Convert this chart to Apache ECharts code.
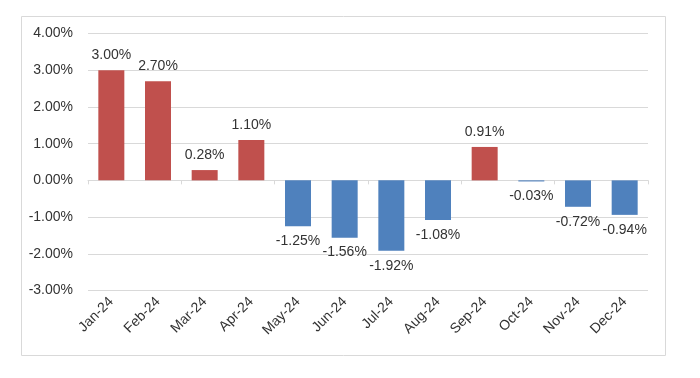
<!DOCTYPE html>
<html><head><meta charset="utf-8">
<script src="https://cdn.jsdelivr.net/npm/echarts@6/dist/echarts.min.js"></script>
<style>html,body{margin:0;padding:0;background:#fff}#c{width:700px;height:378px}</style>
</head><body><div id="c"></div>
<script>
const categories = ['Jan-24','Feb-24','Mar-24','Apr-24','May-24','Jun-24','Jul-24','Aug-24','Sep-24','Oct-24','Nov-24','Dec-24'];
const values = [3.00, 2.70, 0.28, 1.10, -1.25, -1.56, -1.92, -1.08, 0.91, -0.03, -0.72, -0.94];
const posColor = '#c0504d';
const negColor = '#4f81bd';
const font = 'Liberation Sans, Arial, sans-serif';

const chart = echarts.init(document.getElementById('c'));
chart.setOption({
  animation: false,
  graphic: [{type:'rect', shape:{x:21.5,y:16.5,width:644,height:339}, style:{fill:'none', stroke:'#d9d9d9', lineWidth:1}, z:-1}],
  grid: {left: 88, right: 52, top: 33.5, bottom: 87.5, containLabel: false},
  xAxis: [{
    type: 'category', data: categories, position: 'bottom',
    axisLine: {show: false, onZero: false}, axisTick: {show: false},
    axisLabel: {rotate: 45, fontFamily: font, fontSize: 14, color: '#333', margin: 9, interval: 0}
  },{
    type: 'category', data: categories, position: 'bottom',
    axisLine: {show: true, onZero: true, lineStyle: {color: '#d9d9d9', width: 1}},
    axisTick: {show: true, length: 4, lineStyle: {color: '#d9d9d9'}},
    axisLabel: {show: false}
  }],
  yAxis: {
    type: 'value', min: -3, max: 4, interval: 1,
    axisLine: {show: false}, axisTick: {show: false},
    splitLine: {lineStyle: {color: '#d9d9d9', width: 1}},
    axisLabel: {formatter: v => v.toFixed(2) + '%', fontFamily: font, fontSize: 14, color: '#333', margin: 15}
  },
  series: [{
    type: 'bar', xAxisIndex: 0, barWidth: 26,
    data: values.map(v => ({value: v, itemStyle: {color: v >= 0 ? posColor : negColor},
      label: {position: v >= 0 ? 'top' : 'bottom'}})),
    label: {show: true, formatter: p => p.value.toFixed(2) + '%', fontFamily: font, fontSize: 14, color: '#333', distance: 8}
  }]
});
</script></body></html>
